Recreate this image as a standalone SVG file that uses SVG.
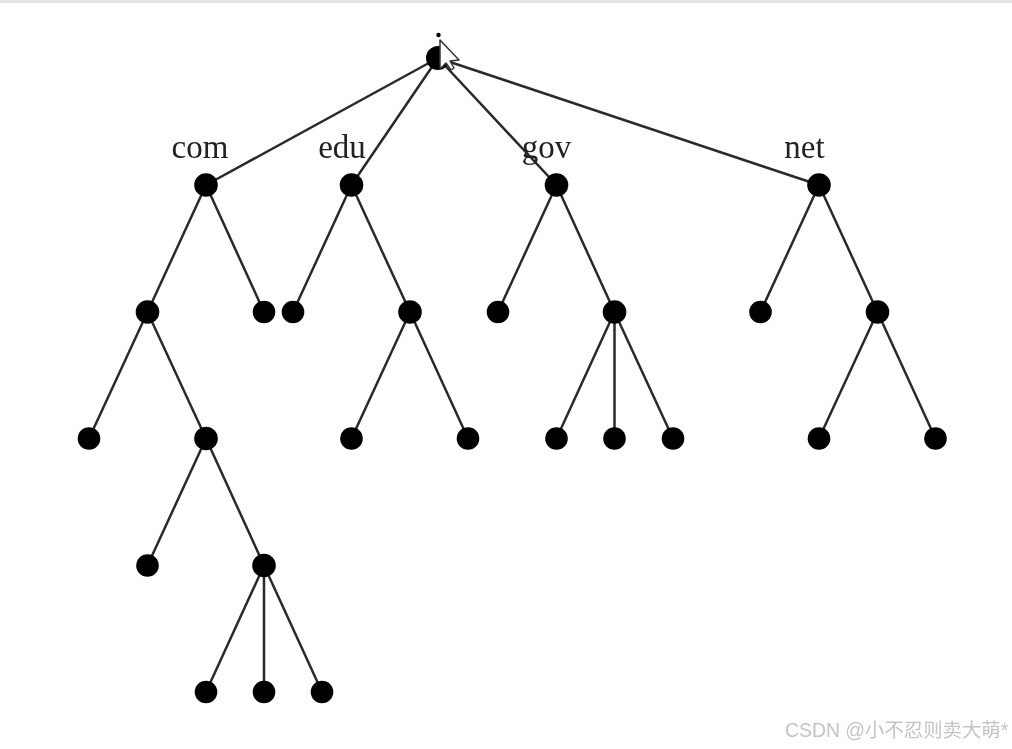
<svg xmlns="http://www.w3.org/2000/svg" width="1012" height="749" viewBox="0 0 1012 749">
<style>
.n{fill:#000}
#connectors line{stroke:#2a2a2a;stroke-width:2.5;stroke-linecap:round}
.l{font-family:"Liberation Serif",serif;font-size:33px;fill:#222;text-anchor:middle}
.w{font-family:"Liberation Sans","Noto Sans CJK SC",sans-serif;font-size:19.400px;fill:#c4c4c4}
</style>
<defs><filter id="soft" x="0" y="0" width="100%" height="100%"><feGaussianBlur stdDeviation="0.6"/></filter></defs>
<rect width="1012" height="749" fill="#fff"/>
<rect width="1012" height="3" fill="#e2e2e2"/>
<g filter="url(#soft)">
<g id="connectors">
<line x1="438" y1="58" x2="206" y2="185"/><line x1="438" y1="58" x2="351.500" y2="185"/><line x1="438" y1="58" x2="556.500" y2="185"/><line x1="438" y1="58" x2="819" y2="185"/>
<line x1="206" y1="185" x2="147.500" y2="312"/><line x1="206" y1="185" x2="264" y2="312"/>
<line x1="351.500" y1="185" x2="293" y2="312"/><line x1="351.500" y1="185" x2="410" y2="312"/>
<line x1="556.500" y1="185" x2="498" y2="312"/><line x1="556.500" y1="185" x2="614.500" y2="312"/>
<line x1="819" y1="185" x2="760.500" y2="312"/><line x1="819" y1="185" x2="877.500" y2="312"/>
<line x1="147.500" y1="312" x2="89" y2="438.500"/><line x1="147.500" y1="312" x2="206" y2="438.500"/>
<line x1="410" y1="312" x2="351.500" y2="438.500"/><line x1="410" y1="312" x2="468" y2="438.500"/>
<line x1="614.500" y1="312" x2="556.500" y2="438.500"/><line x1="614.500" y1="312" x2="614.500" y2="438.500"/><line x1="614.500" y1="312" x2="673" y2="438.500"/>
<line x1="877.500" y1="312" x2="819" y2="438.500"/><line x1="877.500" y1="312" x2="935.500" y2="438.500"/>
<line x1="206" y1="438.500" x2="147.500" y2="565.500"/><line x1="206" y1="438.500" x2="264" y2="565.500"/>
<line x1="264" y1="565.500" x2="206" y2="692"/><line x1="264" y1="565.500" x2="264" y2="692"/><line x1="264" y1="565.500" x2="322" y2="692"/>
</g>
<g id="root"><circle class="n" cx="438" cy="58" r="12"/><circle class="n" cx="438.500" cy="35" r="2.200"/></g>
<g id="node-com"><circle class="n" cx="206" cy="185" r="11.800"/><text class="l" x="200" y="158">com</text></g>
<g id="node-edu"><circle class="n" cx="351.500" cy="185" r="11.800"/><text class="l" x="342" y="158">edu</text></g>
<g id="node-gov"><circle class="n" cx="556.500" cy="185" r="11.800"/><text class="l" x="546.500" y="158">gov</text></g>
<g id="node-net"><circle class="n" cx="819" cy="185" r="11.800"/><text class="l" x="804.500" y="158">net</text></g>
<g id="n1"><circle class="n" cx="147.500" cy="312" r="11.800"/></g>
<g id="n2"><circle class="n" cx="264" cy="312" r="11.300"/></g>
<g id="n3"><circle class="n" cx="293" cy="312" r="11.300"/></g>
<g id="n4"><circle class="n" cx="410" cy="312" r="11.800"/></g>
<g id="n5"><circle class="n" cx="498" cy="312" r="11.300"/></g>
<g id="n6"><circle class="n" cx="614.500" cy="312" r="11.800"/></g>
<g id="n7"><circle class="n" cx="760.500" cy="312" r="11.300"/></g>
<g id="n8"><circle class="n" cx="877.500" cy="312" r="11.800"/></g>
<g id="n9"><circle class="n" cx="89" cy="438.500" r="11.300"/></g>
<g id="n10"><circle class="n" cx="206" cy="438.500" r="11.800"/></g>
<g id="n11"><circle class="n" cx="351.500" cy="438.500" r="11.300"/></g>
<g id="n12"><circle class="n" cx="468" cy="438.500" r="11.300"/></g>
<g id="n13"><circle class="n" cx="556.500" cy="438.500" r="11.300"/></g>
<g id="n14"><circle class="n" cx="614.500" cy="438.500" r="11.300"/></g>
<g id="n15"><circle class="n" cx="673" cy="438.500" r="11.300"/></g>
<g id="n16"><circle class="n" cx="819" cy="438.500" r="11.300"/></g>
<g id="n17"><circle class="n" cx="935.500" cy="438.500" r="11.300"/></g>
<g id="n18"><circle class="n" cx="147.500" cy="565.500" r="11.300"/></g>
<g id="n19"><circle class="n" cx="264" cy="565.500" r="11.800"/></g>
<g id="n20"><circle class="n" cx="206" cy="692" r="11.300"/></g>
<g id="n21"><circle class="n" cx="264" cy="692" r="11.300"/></g>
<g id="n22"><circle class="n" cx="322" cy="692" r="11.300"/></g>
<path id="cursor" d="M440 40V69L446 63L451 70L454 68L450 61L459 60Z" fill="#fff" stroke="#333" stroke-width="1.500" stroke-linejoin="round"/>
<text class="w" x="785" y="737">CSDN @小不忍则卖大萌*</text>
</g>
</svg>
